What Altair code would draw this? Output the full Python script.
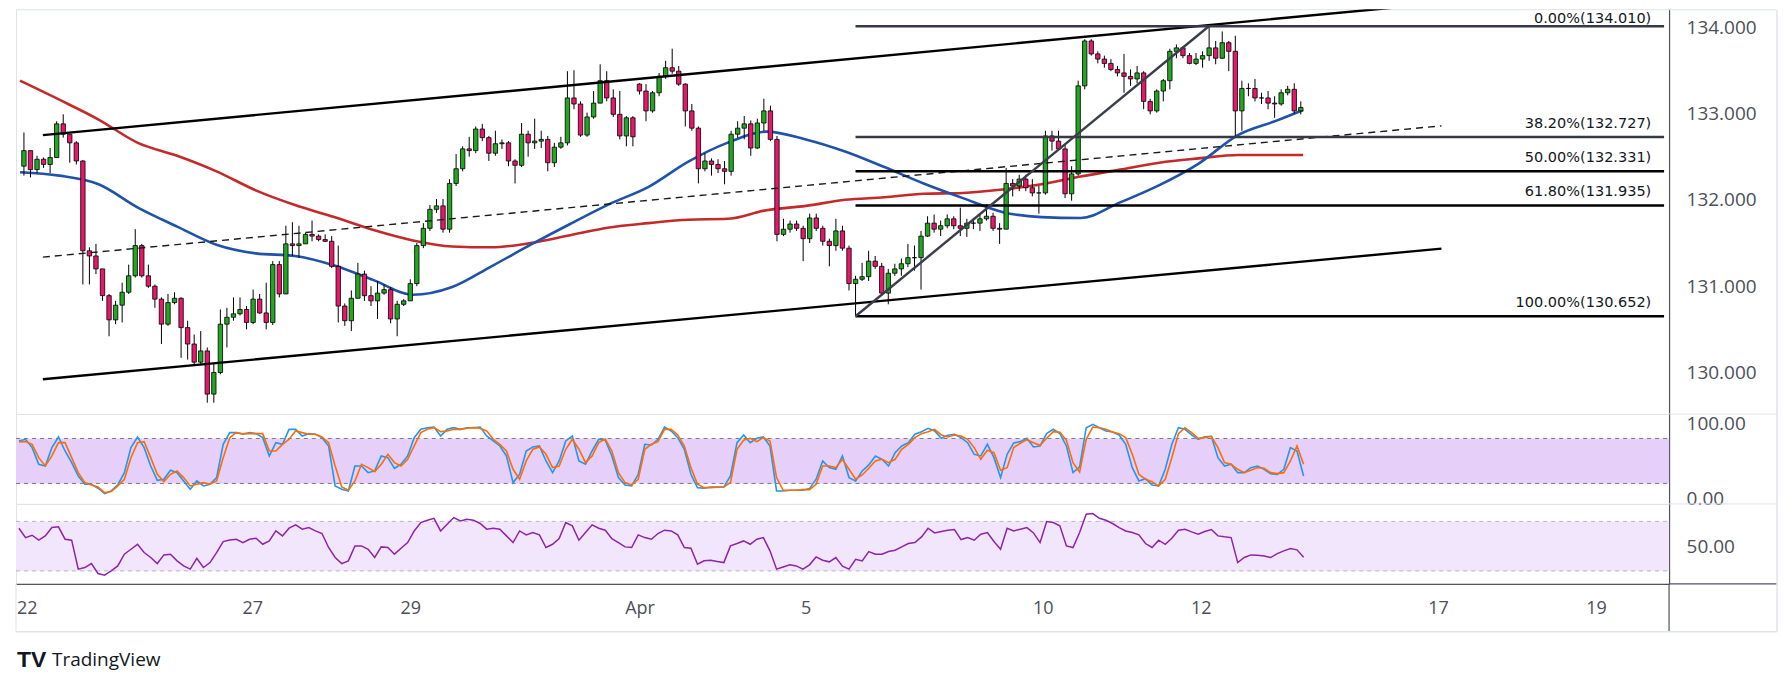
import altair as alt
import pandas as pd

# ---------------- data ----------------
FIRST_OPEN = 132.39
GAP_OPEN = {94: 133.34}          # Monday open after the weekend gap

CLOSE = [132.57, 132.35, 132.47, 132.41, 132.49, 132.88, 132.76, 132.66, 132.45, 131.41,
         131.35, 131.20, 130.89, 130.61, 130.78, 130.93, 131.12, 131.47, 131.12, 131.00,
         130.85, 130.56, 130.81, 130.86, 130.52, 130.33, 130.12, 130.25, 129.75, 130.00,
         130.56, 130.64, 130.68, 130.73, 130.58, 130.85, 130.69, 130.58, 131.25, 130.91,
         131.49, 131.47, 131.49, 131.60, 131.58, 131.54, 131.52, 131.23, 130.77, 130.60,
         130.86, 131.14, 130.89, 130.83, 130.92, 130.96, 130.62, 130.79, 130.83, 131.03,
         131.47, 131.67, 131.89, 131.93, 131.66, 132.19, 132.36, 132.59, 132.57, 132.82,
         132.72, 132.54, 132.65, 132.66, 132.45, 132.40, 132.76, 132.66, 132.68, 132.70,
         132.43, 132.61, 132.66, 133.18, 133.11, 132.75, 132.96, 133.12, 133.38, 133.18,
         132.99, 132.74, 132.95, 132.73, 133.26, 133.03, 133.24, 133.43, 133.53, 133.49,
         133.34, 133.03, 132.83, 132.36, 132.45, 132.41, 132.36, 132.33, 132.76, 132.83,
         132.88, 132.60, 132.89, 133.03, 132.70, 131.60, 131.66, 131.72, 131.67, 131.55,
         131.79, 131.67, 131.52, 131.47, 131.64, 131.44, 131.03, 131.08, 131.11, 131.29,
         131.23, 130.92, 131.15, 131.20, 131.26, 131.33, 131.33, 131.58, 131.73, 131.66,
         131.70, 131.78, 131.70, 131.67, 131.73, 131.73, 131.78, 131.81, 131.67, 131.66,
         132.19, 132.16, 132.24, 132.14, 132.08, 132.08, 132.74, 132.68, 132.59, 132.07,
         132.30, 133.32, 133.84, 133.69, 133.63, 133.58, 133.51, 133.47, 133.43, 133.40,
         133.47, 133.14, 133.03, 133.26, 133.38, 133.72, 133.76, 133.67, 133.58, 133.63,
         133.67, 133.76, 133.64, 133.82, 133.72, 133.03, 133.29, 133.29, 133.18, 133.18,
         133.12, 133.11, 133.24, 133.28, 133.03, 133.07]

HIGH = [132.78, 132.57, 132.51, 132.49, 132.60, 132.91, 132.99, 132.76, 132.68, 132.46,
        131.45, 131.49, 131.20, 130.91, 130.83, 131.04, 131.25, 131.66, 131.49, 131.25,
        131.02, 130.87, 130.91, 130.93, 130.87, 130.60, 130.44, 130.48, 130.29, 130.10,
        130.73, 130.75, 130.87, 130.87, 130.77, 130.96, 130.91, 131.04, 131.29, 131.29,
        131.70, 131.74, 131.70, 131.62, 131.76, 131.60, 131.60, 131.58, 131.47, 130.80,
        130.95, 131.27, 131.18, 131.00, 131.06, 131.02, 130.99, 130.83, 130.85, 131.08,
        131.50, 131.73, 131.94, 132.01, 132.01, 132.24, 132.53, 132.62, 132.73, 132.85,
        132.88, 132.74, 132.80, 132.70, 132.68, 132.47, 132.89, 132.80, 132.94, 132.80,
        132.74, 132.66, 132.73, 133.49, 133.50, 133.14, 133.01, 133.26, 133.57, 133.49,
        133.28, 133.26, 132.97, 132.97, 133.35, 133.34, 133.26, 133.47, 133.61, 133.75,
        133.55, 133.35, 133.11, 132.85, 132.54, 132.48, 132.47, 132.45, 132.80, 132.91,
        132.97, 132.92, 132.94, 133.17, 133.09, 132.74, 131.78, 131.76, 131.76, 131.70,
        131.84, 131.84, 131.70, 131.55, 131.78, 131.70, 131.47, 131.12, 131.27, 131.41,
        131.35, 131.27, 131.20, 131.26, 131.32, 131.49, 131.47, 131.64, 131.81, 131.83,
        131.76, 131.83, 131.81, 131.91, 131.78, 131.79, 131.83, 131.95, 131.85, 131.73,
        132.37, 132.24, 132.29, 132.29, 132.24, 132.16, 132.80, 132.80, 132.80, 132.65,
        132.39, 133.38, 133.86, 133.86, 133.72, 133.67, 133.63, 133.55, 133.69, 133.51,
        133.55, 133.49, 133.17, 133.28, 133.40, 133.75, 133.80, 133.78, 133.70, 133.70,
        133.72, 134.01, 133.84, 133.95, 133.84, 133.90, 133.38, 133.35, 133.40, 133.24,
        133.26, 133.20, 133.28, 133.32, 133.35, 133.14]

LOW = [132.28, 132.26, 132.31, 132.37, 132.31, 132.49, 132.72, 132.43, 132.41, 131.02,
       131.02, 131.14, 130.83, 130.42, 130.56, 130.58, 130.91, 131.10, 131.10, 130.98,
       130.75, 130.33, 130.54, 130.79, 130.17, 130.15, 130.08, 130.10, 129.65, 129.65,
       129.98, 130.29, 130.60, 130.66, 130.50, 130.56, 130.68, 130.50, 130.55, 130.87,
       130.91, 131.35, 131.33, 131.49, 131.52, 131.52, 131.51, 131.21, 130.58, 130.54,
       130.48, 130.86, 130.83, 130.77, 130.62, 130.90, 130.57, 130.42, 130.77, 130.83,
       131.00, 131.44, 131.64, 131.85, 131.62, 131.62, 132.16, 132.33, 132.50, 132.54,
       132.68, 132.45, 132.51, 132.59, 132.39, 132.19, 132.38, 132.50, 132.59, 132.60,
       132.33, 132.38, 132.59, 132.63, 133.05, 132.73, 132.73, 132.94, 133.12, 133.14,
       132.96, 132.70, 132.62, 132.62, 133.22, 132.91, 133.01, 133.20, 133.40, 133.46,
       133.32, 132.85, 132.80, 132.19, 132.33, 132.28, 132.31, 132.18, 132.28, 132.72,
       132.70, 132.51, 132.59, 132.80, 132.68, 131.52, 131.58, 131.62, 131.64, 131.29,
       131.50, 131.64, 131.47, 131.23, 131.41, 131.41, 130.95, 130.652, 131.06, 131.06,
       131.20, 130.89, 130.79, 131.12, 131.12, 131.22, 131.18, 130.96, 131.57, 131.62,
       131.58, 131.67, 131.66, 131.58, 131.57, 131.66, 131.64, 131.76, 131.64, 131.49,
       131.66, 132.04, 132.10, 132.10, 132.04, 131.84, 132.06, 132.57, 132.57, 132.02,
       131.99, 132.28, 133.28, 133.67, 133.58, 133.53, 133.49, 133.43, 133.24, 133.32,
       133.35, 133.05, 132.99, 133.01, 133.14, 133.28, 133.64, 133.64, 133.57, 133.56,
       133.53, 133.61, 133.57, 133.63, 133.49, 132.74, 132.80, 133.20, 133.14, 133.11,
       133.05, 132.95, 133.09, 133.21, 133.00, 132.99]

STOCH_K = [76.7, 78.9, 67.8, 45.6, 43.3, 67.8, 82.0, 63.3, 47.8, 30.0,
           18.9, 18.9, 13.6, 6.4, 10.0, 18.0, 34.4, 67.8, 82.0, 67.8,
           43.3, 24.2, 25.6, 37.6, 34.4, 23.3, 12.2, 23.3, 16.7, 18.9,
           27.8, 72.2, 87.8, 87.8, 85.6, 87.8, 86.4, 81.1, 56.7, 74.4,
           72.2, 92.2, 92.2, 83.3, 86.4, 85.6, 81.1, 70.0, 16.7, 12.2,
           10.0, 43.3, 43.3, 34.4, 36.7, 56.7, 54.4, 40.2, 45.6, 56.7,
           81.1, 92.2, 94.4, 95.3, 83.3, 92.2, 94.4, 92.2, 94.4, 94.4,
           95.3, 83.3, 76.7, 70.0, 56.7, 21.1, 32.2, 63.3, 68.7, 70.0,
           50.0, 34.4, 50.0, 76.7, 83.3, 50.0, 45.6, 63.3, 78.9, 77.6,
           56.7, 27.8, 18.0, 16.7, 32.2, 72.2, 71.3, 78.9, 95.3, 90.0,
           81.1, 65.6, 32.2, 14.4, 13.6, 15.3, 15.3, 15.3, 30.0, 74.4,
           84.7, 74.4, 80.2, 82.0, 70.0, 10.0, 10.0, 10.9, 10.9, 10.9,
           13.1, 25.6, 50.0, 41.1, 38.9, 56.7, 27.8, 23.3, 36.7, 44.7,
           56.7, 52.2, 43.3, 61.1, 70.0, 74.4, 85.6, 89.1, 93.6, 90.0,
           80.2, 84.2, 85.6, 81.1, 74.4, 58.9, 56.7, 72.2, 54.4, 27.8,
           58.9, 74.0, 75.8, 80.2, 68.7, 70.0, 86.4, 92.2, 86.4, 70.0,
           34.4, 42.0, 94.4, 98.9, 94.4, 90.0, 88.7, 84.7, 72.2, 41.1,
           23.3, 26.4, 18.0, 16.7, 38.9, 72.2, 94.4, 92.2, 84.7, 78.9,
           82.4, 82.9, 54.4, 43.3, 45.6, 34.4, 34.4, 41.1, 43.3, 38.9,
           33.1, 32.2, 38.9, 67.8, 63.3, 30.0]

STOCH_D = [75.3, 75.8, 72.2, 54.4, 43.3, 56.7, 74.4, 74.4, 54.4, 34.4,
           21.1, 18.0, 15.3, 7.8, 9.1, 16.7, 25.6, 54.4, 74.4, 75.8,
           54.4, 32.2, 22.4, 32.2, 36.7, 27.8, 16.7, 18.9, 21.1, 18.9,
           23.3, 54.4, 81.1, 87.8, 86.4, 86.4, 86.4, 86.4, 63.3, 63.3,
           72.2, 78.9, 90.0, 87.8, 85.6, 85.6, 82.0, 74.4, 43.3, 15.3,
           10.9, 23.3, 45.6, 41.1, 35.8, 45.6, 58.9, 47.8, 43.3, 52.2,
           70.0, 87.8, 92.2, 94.4, 89.1, 90.0, 92.2, 92.2, 93.6, 94.4,
           93.6, 90.0, 78.9, 72.2, 63.3, 38.9, 25.6, 50.0, 65.6, 68.7,
           58.9, 41.1, 43.3, 65.6, 78.9, 65.6, 47.8, 56.7, 74.4, 79.3,
           63.3, 34.4, 21.1, 18.0, 25.6, 65.6, 72.2, 75.8, 92.2, 92.2,
           84.7, 70.0, 41.1, 18.9, 14.4, 14.4, 14.9, 15.3, 21.1, 65.6,
           77.6, 80.2, 75.8, 81.1, 76.7, 27.8, 10.9, 10.9, 10.9, 11.8,
           11.8, 18.9, 43.3, 43.3, 41.1, 52.2, 38.9, 25.6, 31.3, 40.2,
           50.0, 52.2, 47.8, 52.2, 65.6, 72.2, 81.1, 86.4, 89.1, 92.2,
           84.7, 82.0, 84.7, 83.3, 78.9, 67.8, 52.2, 64.2, 61.1, 37.6,
           41.1, 67.8, 73.6, 78.4, 74.4, 70.9, 80.2, 89.1, 88.2, 77.6,
           47.8, 35.3, 78.9, 95.3, 94.4, 92.2, 88.7, 86.4, 81.1, 58.9,
           32.2, 25.6, 22.4, 16.7, 25.6, 54.4, 86.4, 94.4, 87.8, 80.2,
           81.1, 82.9, 67.8, 47.8, 45.6, 38.9, 34.4, 37.6, 41.1, 40.2,
           34.4, 33.1, 34.4, 50.0, 70.0, 45.6]

RSI = [64.5, 56.9, 58.8, 54.8, 58.3, 65.0, 65.6, 55.6, 54.8, 31.4,
       32.7, 35.9, 27.9, 26.5, 30.0, 34.0, 43.5, 47.5, 51.5, 44.8,
       40.8, 35.9, 42.9, 43.5, 38.1, 34.0, 31.4, 40.2, 32.7, 36.7,
       44.8, 53.7, 55.0, 55.6, 52.9, 55.6, 56.4, 51.5, 54.2, 62.3,
       58.3, 64.5, 67.2, 63.7, 65.0, 62.3, 60.2, 48.9, 40.8, 35.9,
       38.1, 50.2, 50.2, 47.5, 40.8, 49.4, 48.9, 43.5, 48.3, 52.9,
       62.3, 69.1, 71.0, 72.5, 62.3, 67.7, 73.1, 70.4, 71.7, 71.0,
       68.3, 63.7, 64.5, 63.7, 58.3, 52.9, 62.3, 59.1, 61.0, 59.1,
       48.9, 51.5, 56.1, 69.1, 66.4, 54.8, 61.0, 67.2, 64.5, 62.9,
       56.1, 52.9, 49.4, 48.9, 59.1, 56.9, 55.6, 60.2, 62.9, 62.3,
       59.1, 48.9, 48.3, 35.4, 38.1, 38.6, 37.5, 36.7, 50.2, 52.1,
       54.2, 51.5, 55.6, 56.9, 46.2, 31.4, 33.2, 34.9, 34.0, 31.4,
       34.9, 41.3, 38.6, 37.3, 40.8, 33.8, 31.4, 39.4, 38.1, 45.6,
       43.5, 43.5, 45.6, 46.7, 49.4, 52.1, 52.9, 57.5, 64.5, 60.7,
       61.8, 62.9, 63.4, 55.3, 56.9, 54.8, 59.6, 61.0, 53.7, 47.5,
       64.5, 62.3, 63.7, 65.0, 60.7, 52.9, 69.9, 69.1, 66.4, 50.2,
       48.9, 61.0, 75.8, 76.3, 72.5, 70.9, 68.3, 65.0, 62.3, 61.0,
       59.1, 52.1, 48.9, 54.8, 51.5, 56.4, 62.9, 63.7, 61.5, 59.6,
       61.8, 63.4, 58.3, 57.5, 56.9, 36.7, 40.8, 42.9, 42.6, 42.1,
       40.8, 44.0, 46.2, 48.0, 47.0, 41.0]

# moving averages, sampled every half trading day (plus the last bar)
MA_D = [i * 0.5 for i in range(33)] + [16.33]
MA200 = [133.38, 133.16, 132.93, 132.66, 132.51, 132.33, 132.11, 131.94, 131.80, 131.65,
         131.53, 131.46, 131.45, 131.50, 131.59, 131.68, 131.73, 131.77, 131.78, 131.88,
         131.93, 132.00, 132.03, 132.07, 132.08, 132.12, 132.18, 132.27, 132.35, 132.43,
         132.48, 132.52, 132.52, 132.52]
MA100 = [132.32, 132.28, 132.18, 131.91, 131.69, 131.48, 131.38, 131.35, 131.24, 131.07,
         130.90, 130.99, 131.23, 131.48, 131.72, 131.95, 132.15, 132.44, 132.66, 132.79,
         132.70, 132.56, 132.38, 132.19, 132.02, 131.86, 131.80, 131.79, 131.97, 132.17,
         132.42, 132.75, 132.92, 133.04]

TICK_D = [0.02, 3, 5, 7.9, 10, 13, 15, 18, 20]
TICK_LABELS = ["22", "27", "29", "Apr", "5", "10", "12", "17", "19"]

FIB_PCT = ["0.00%", "38.20%", "50.00%", "61.80%", "100.00%"]
FIB_PRICE = [134.010, 132.727, 132.331, 131.935, 130.652]
FIB_FROM_D, FIB_TO_D = 10.633, 15.13          # swing low bar -> swing high bar

CH_D = [0.291, 18.09]
CH_UPPER = [132.75, 134.278]
CH_LOWER = [129.922, 131.435]
CH_MID = [131.336, 132.857]

STOCH_BAND = [20, 80]
RSI_BAND = [30, 70]
PRICE_TICKS = [130, 131, 132, 133, 134]

# ---------------- layout / style ----------------
X_MIN, X_MAX = 0.0126, 20.923
P_MIN, P_MAX = 129.52, 134.208
S_MIN, S_MAX = -7.3, 112.7
R_MIN, R_MAX = 19.5, 84.14
W = 1654
H_PRICE, H_STOCH, H_RSI = 405, 90, 80
FRAME_R = 1762

GREEN, PINK = "#22a722", "#e8176c"
BLUE_MA, RED_MA = "#1f52a8", "#c42a2a"
FRAME = "#e0e3eb"
AXLINE = "#50535e"
TXT = "#4c4f5a"
FONT = "Open Sans"
FIB_FONT = "DejaVu Sans"

# ---------------- tables ----------------
n = len(CLOSE)
d = [0.05 + k / 12 for k in range(n)]
opens = []
for k in range(n):
    if k == 0:
        opens.append(FIRST_OPEN)
    elif k in GAP_OPEN:
        opens.append(GAP_OPEN[k])
    else:
        opens.append(CLOSE[k - 1])
candles = pd.DataFrame({"d": d, "open": opens, "close": CLOSE, "high": HIGH, "low": LOW})
osc = pd.DataFrame({"d": d, "k": STOCH_K, "dd": STOCH_D, "rsi": RSI})
ma = pd.DataFrame({"d": MA_D, "ma100": MA100, "ma200": MA200})
fib = pd.DataFrame({"idx": list(range(len(FIB_PRICE))), "price": FIB_PRICE,
                    "label": [f"{p}({v:.3f})" for p, v in zip(FIB_PCT, FIB_PRICE)]})
fib_diag = pd.DataFrame({"d": [FIB_FROM_D, FIB_TO_D], "p": [FIB_PRICE[-1], FIB_PRICE[0]]})
channel = pd.DataFrame({"d": CH_D * 2, "p": CH_UPPER + CH_LOWER,
                        "line": ["upper"] * 2 + ["lower"] * 2})
mid = pd.DataFrame({"d": CH_D, "p": CH_MID})
one = pd.DataFrame({"a": [0]})

xs = alt.Scale(domain=[X_MIN, X_MAX], nice=False, zero=False)
ps = alt.Scale(domain=[P_MIN, P_MAX], nice=False, zero=False)
ss = alt.Scale(domain=[S_MIN, S_MAX], nice=False, zero=False)
rs = alt.Scale(domain=[R_MIN, R_MAX], nice=False, zero=False)


def yaxis(values, fmt):
    return alt.Axis(orient="right", values=values, format=fmt, grid=False, ticks=False,
                    tickSize=0, labelPadding=17, labelFont=FONT, labelFontSize=19,
                    labelColor=TXT, domain=True, domainColor=AXLINE, domainWidth=1.2,
                    labelAlign="left", labelBaseline="middle", labelOverlap=False,
                    labelFlush=False, title=None)


PRICE_AX = yaxis(PRICE_TICKS, ".3f")
STOCH_AX = yaxis([0, 100], ".2f")
RSI_AX = yaxis([50], ".2f")

label_expr = " : ".join(f"datum.value == {v} ? '{t}'" for v, t in zip(TICK_D, TICK_LABELS)) + " : ''"
x_axis = alt.Axis(values=TICK_D, labelExpr=label_expr, grid=False, ticks=False, tickSize=0,
                  labelPadding=16, labelFont=FONT, labelFontSize=18, labelColor=TXT,
                  domainColor=AXLINE, domainWidth=1.2, labelOverlap=False, labelFlush=False,
                  labelAlign={"condition": {"test": "datum.value < 1", "value": "left"},
                              "value": "center"},
                  title=None)


def X(field, axis=None):
    return alt.X(field, type="quantitative", scale=xs, axis=axis)


def PY(field):
    return alt.Y(field, type="quantitative", scale=ps, axis=PRICE_AX)


# ---------------- price panel ----------------
ma200_l = alt.Chart(ma).mark_line(color=RED_MA, strokeWidth=2.6, interpolate="monotone").encode(
    x=X("d"), y=PY("ma200"))
ma100_l = alt.Chart(ma).mark_line(color=BLUE_MA, strokeWidth=2.6, interpolate="monotone").encode(
    x=X("d"), y=PY("ma100"))
wicks = alt.Chart(candles).mark_rule(color="#000000", strokeWidth=1).encode(
    x=X("d"), y=PY("low"), y2="high:Q")
bodies = alt.Chart(candles).mark_bar(size=4.4, stroke="#000000", strokeWidth=0.8).encode(
    x=X("d"), y=PY("open"), y2="close:Q",
    fill=alt.condition("datum.close >= datum.open", alt.value(GREEN), alt.value(PINK)))
ch_lines = alt.Chart(channel).mark_line(color="#000000", strokeWidth=2.4, clip=True).encode(
    x=X("d"), y=PY("p"), detail="line:N")
ch_mid = alt.Chart(mid).mark_line(color="#1a1a1a", strokeWidth=1.4, strokeDash=[7, 5], clip=True).encode(
    x=X("d"), y=PY("p"))
fib_rules = alt.Chart(fib).mark_rule(strokeWidth=2.6).encode(
    x=alt.X(datum=FIB_FROM_D, type="quantitative", scale=xs, axis=None),
    x2=alt.X2(datum=X_MAX),
    y=PY("price"),
    color=alt.condition("datum.idx < 2", alt.value("#363a45"), alt.value("#000000")))
fib_line = alt.Chart(fib_diag).mark_line(color="#3a3e4a", strokeWidth=2.4).encode(
    x=X("d"), y=PY("p"))
fib_text_top = alt.Chart(fib).transform_filter("datum.idx == 0").mark_text(
    align="right", baseline="alphabetic", dy=-3.3, font=FIB_FONT, fontSize=14.5, color="#131722").encode(
    x=alt.X(datum=20.76, type="quantitative", scale=xs, axis=None),
    y=PY("price"), text="label:N")
fib_text = alt.Chart(fib).transform_filter("datum.idx > 0").mark_text(
    align="right", baseline="alphabetic", dy=-9, font=FIB_FONT, fontSize=14.5, color="#131722").encode(
    x=alt.X(datum=20.76, type="quantitative", scale=xs, axis=None),
    y=PY("price"), text="label:N")
frame_top = alt.Chart(one).mark_rule(color=FRAME, strokeWidth=1).encode(
    x=alt.value(W), x2=alt.value(FRAME_R), y=alt.value(0.5))
frame_sep1 = alt.Chart(one).mark_rule(color=FRAME, strokeWidth=1).encode(
    x=alt.value(W), x2=alt.value(FRAME_R), y=alt.value(H_PRICE))

price = alt.layer(ma200_l, ma100_l, wicks, bodies, ch_lines, ch_mid, fib_rules, fib_line,
                  fib_text_top, fib_text, frame_top, frame_sep1).properties(width=W, height=H_PRICE)

# ---------------- stochastic panel ----------------
band_df = pd.DataFrame({"lo": [STOCH_BAND[0]], "hi": [STOCH_BAND[1]]})
s_band = alt.Chart(band_df).mark_rect(color="#e6cff9").encode(
    x=alt.value(0), x2=alt.value(W),
    y=alt.Y("hi:Q", scale=ss, axis=STOCH_AX), y2="lo:Q")
s_lines_df = pd.DataFrame({"v": STOCH_BAND})
s_dash = alt.Chart(s_lines_df).mark_rule(color="#787b86", strokeWidth=1, strokeDash=[4, 4]).encode(
    x=alt.value(0), x2=alt.value(W), y=alt.Y("v:Q", scale=ss, axis=STOCH_AX))
k_line = alt.Chart(osc).mark_line(color="#2196f3", strokeWidth=1.6).encode(
    x=X("d"), y=alt.Y("k:Q", scale=ss, axis=STOCH_AX))
d_line = alt.Chart(osc).mark_line(color="#ff6d00", strokeWidth=1.6).encode(
    x=X("d"), y=alt.Y("dd:Q", scale=ss, axis=STOCH_AX))
frame_sep2 = alt.Chart(one).mark_rule(color=FRAME, strokeWidth=1).encode(
    x=alt.value(W), x2=alt.value(FRAME_R), y=alt.value(H_STOCH))
stoch = alt.layer(s_band, s_dash, k_line, d_line, frame_sep2).properties(width=W, height=H_STOCH)

# ---------------- RSI panel ----------------
rband_df = pd.DataFrame({"lo": [RSI_BAND[0]], "hi": [RSI_BAND[1]]})
r_band = alt.Chart(rband_df).mark_rect(color="#f2e6fc").encode(
    x=alt.value(0), x2=alt.value(W),
    y=alt.Y("hi:Q", scale=rs, axis=RSI_AX), y2="lo:Q")
r_lines_df = pd.DataFrame({"v": RSI_BAND})
r_dash = alt.Chart(r_lines_df).mark_rule(color="#b2b5be", strokeWidth=1, strokeDash=[4, 4]).encode(
    x=alt.value(0), x2=alt.value(W), y=alt.Y("v:Q", scale=rs, axis=RSI_AX))
r_line = alt.Chart(osc).mark_line(color="#8e24aa", strokeWidth=1.5).encode(
    x=X("d", x_axis), y=alt.Y("rsi:Q", scale=rs, axis=RSI_AX))
ax_ext = alt.Chart(one).mark_rule(color=AXLINE, strokeWidth=1.2).encode(
    x=alt.value(W), x2=alt.value(FRAME_R), y=alt.value(H_RSI))
vsep_ext = alt.Chart(one).mark_rule(color=AXLINE, strokeWidth=1.2).encode(
    x=alt.value(W), y=alt.value(H_RSI), y2=alt.value(128))
frame_bottom = alt.Chart(one).mark_rule(color=FRAME, strokeWidth=1.5).encode(
    x=alt.value(0), x2=alt.value(FRAME_R), y=alt.value(128))
frame_left_ext = alt.Chart(one).mark_rule(color=FRAME, strokeWidth=1).encode(
    x=alt.value(0), y=alt.value(H_RSI), y2=alt.value(128))
frame_right = alt.Chart(one).mark_rule(color=FRAME, strokeWidth=1.5).encode(
    x=alt.value(FRAME_R), y=alt.value(-(H_PRICE + H_STOCH) + 1), y2=alt.value(128))
logo_df = pd.DataFrame({"mark": ["TV"], "name": ["TradingView"]})
logo_icon = alt.Chart(logo_df).mark_text(align="left", baseline="middle", font="Liberation Sans",
                                         fontSize=23, fontWeight=900, color="#131722").encode(
    x=alt.value(1), y=alt.value(156), text="mark:N")
logo_text = alt.Chart(logo_df).mark_text(align="left", baseline="middle", font="Open Sans",
                                         fontSize=19, color="#131722").encode(
    x=alt.value(36), y=alt.value(156), text="name:N")

rsi = alt.layer(r_band, r_dash, r_line, ax_ext, vsep_ext, frame_bottom, frame_left_ext,
                frame_right, logo_icon, logo_text).properties(width=W, height=H_RSI)

chart = alt.vconcat(price, stoch, rsi, spacing=0, bounds="flush").properties(
    padding={"left": 6, "top": 0, "right": 4, "bottom": 4},
    background="#ffffff",
).configure_view(stroke=FRAME, strokeWidth=1)

chart.save("out.html", embed_options={"renderer": "svg", "actions": False})
